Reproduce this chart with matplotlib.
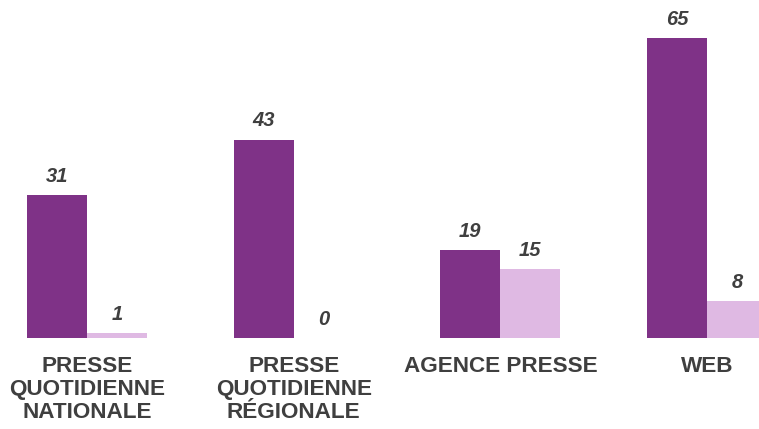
import matplotlib.pyplot as plt
import numpy as np

categories = ['PRESSE\nQUOTIDIENNE\nNATIONALE', 'PRESSE\nQUOTIDIENNE\nRÉGIONALE', 'AGENCE PRESSE', 'WEB']
serie_a = [31, 43, 19, 65]
serie_b = [1, 0, 15, 8]

dark = '#7F3287'
light = '#DFB9E3'
text_col = '#3F3F3F'
plt.rcParams['font.family'] = ['Liberation Sans', 'DejaVu Sans']

fig = plt.figure(figsize=(7.59, 4.29), dpi=100)
ax = fig.add_axes([0, 91 / 429, 1, 338 / 429])

x = np.arange(len(categories))
w = 0.29
bars_a = ax.bar(x - w / 2, serie_a, width=w, color=dark)
bars_b = ax.bar(x + w / 2, serie_b, width=w, color=light)

for bars, vals in [(bars_a, serie_a), (bars_b, serie_b)]:
    for b, v in zip(bars, vals):
        ax.annotate(str(v), (b.get_x() + b.get_width() / 2, v),
                    xytext=(0, 9.4), textcoords='offset points',
                    ha='center', va='baseline', fontsize=14.5,
                    fontweight='bold', fontstyle='italic', color=text_col)

ax.set_xlim(-87 / 206.67, (759 - 87) / 206.67)
ax.set_ylim(0, 338 / 4.615)
ax.set_xticks(x)
ax.set_xticklabels(categories, fontsize=16.2, fontweight='bold', color=text_col,
                   linespacing=1.12)
ax.tick_params(axis='x', length=0, pad=13)
ax.set_yticks([])
for s in ax.spines.values():
    s.set_visible(False)

fig.savefig('out.png', dpi=100)
